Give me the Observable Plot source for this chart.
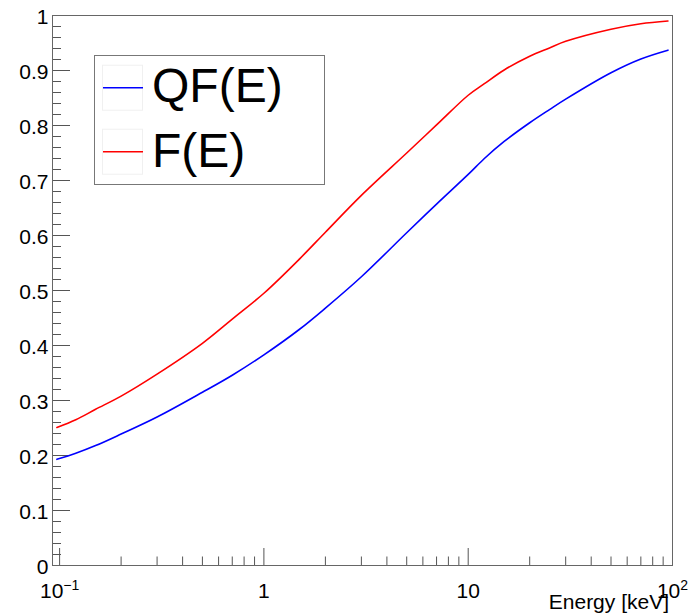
<!DOCTYPE html>
<html><head><meta charset="utf-8">
<script src="https://cdn.jsdelivr.net/npm/d3@7"></script>
<script src="https://cdn.jsdelivr.net/npm/@observablehq/plot@0.6"></script>
<style>
body{margin:0;background:#fff;}
svg{display:block;font-family:"Liberation Sans",Arial,Helvetica,sans-serif;}
</style>
</head><body><div id="chart"></div>
<script>
// Data
const energy = [0.097,0.12,0.15,0.2,0.3,0.5,0.7,1,1.5,2,3,5,7,10,12,15,20,25,30,50,70,95];
const qf     = [0.193,0.204,0.218,0.239,0.270,0.315,0.346,0.383,0.430,0.468,0.525,0.605,0.657,0.711,0.740,0.771,0.805,0.829,0.848,0.896,0.921,0.937];
const fe     = [0.251,0.265,0.284,0.308,0.348,0.404,0.448,0.495,0.558,0.606,0.673,0.750,0.801,0.855,0.876,0.901,0.926,0.941,0.953,0.975,0.985,0.990];
const seriesNames = ["QF(E)","F(E)"];
const seriesColors = ["#0000ff","#ff0000"];
const yMajor = [0,0.1,0.2,0.3,0.4,0.5,0.6,0.7,0.8,0.9,1];
const yMinor = d3.range(0,51).filter(i => i % 5 !== 0).map(i => i/50);
const xMajor = [0.1,1,10,100];
const xMinor = [0.2,0.3,0.4,0.5,0.6,0.7,0.8,0.9,2,3,4,5,6,7,8,9,20,30,40,50,60,70,80,90];
const xLabels = ["10^−1","1","10","10^2"];
const xTitle = "Energy [keV]";

const W = 689, H = 615;
const mL = 52, mR = 17, mT = 15, mB = 50;
const pw = W - mL - mR, ph = H - mT - mB;

const rows = [];
energy.forEach((e,i) => {
  rows.push({E:e, v:qf[i], s:seriesNames[0]});
  rows.push({E:e, v:fe[i], s:seriesNames[1]});
});

const tickColor = "#555";
const chart = Plot.plot({
  width: W, height: H,
  marginLeft: mL, marginRight: mR, marginTop: mT, marginBottom: mB,
  style: {fontSize: "21px", fontFamily: "Liberation Sans, Arial, Helvetica, sans-serif", color: "#000", background: "#fff"},
  x: {type: "log", domain: [0.0923, 100], axis: null},
  y: {domain: [0, 1], axis: null},
  color: {domain: seriesNames, range: seriesColors},
  marks: [
    Plot.tickY(yMinor, {y: d => d, insetRight: pw - 9, stroke: tickColor}),
    Plot.tickY(yMajor, {y: d => d, insetRight: pw - 18, stroke: tickColor}),
    Plot.tickX(xMinor, {x: d => d, insetTop: ph - 8.5, stroke: tickColor}),
    Plot.tickX(xMajor, {x: d => d, insetTop: ph - 17, stroke: tickColor}),
    Plot.axisY(yMajor, {tickSize: 0, tickPadding: 4, dy: 2, fontSize: 21, label: null,
      tickFormat: d => String(+d.toFixed(1))}),
    Plot.axisX(xMajor, {tickSize: 0, tickPadding: 18, fontSize: 21, label: null,
      tickFormat: (d, i) => xLabels[xMajor.indexOf(d)]}),
    Plot.line(rows, {x: "E", y: "v", z: "s", stroke: "s", strokeWidth: 1.6, curve: "catmull-rom"}),
    Plot.frame({stroke: "#666"})
  ]
});

const svg = d3.select(chart);
// superscripts for decade labels
svg.selectAll("text").each(function(){
  const t = this.textContent;
  const m = t.match(/^10\^(.+)$/);
  if (m) {
    const s = d3.select(this);
    s.text("10");
    s.append("tspan").attr("dy", -8).attr("font-size", 14).text(m[1]);
  }
});
// axis title
svg.append("text").attr("x", 669).attr("y", 609).attr("text-anchor", "end")
  .attr("font-size", 21).attr("fill", "#000").text(xTitle);

// legend
const lg = svg.append("g");
lg.append("rect").attr("x", 94.5).attr("y", 55.5).attr("width", 230).attr("height", 129)
  .attr("fill", "#fff").attr("stroke", "#777");
seriesNames.forEach((name, i) => {
  const cy = 87.7 + i * 64;
  lg.append("rect").attr("x", 102.5).attr("y", cy - 22.5).attr("width", 40).attr("height", 45)
    .attr("fill", "none").attr("stroke", "#f0f0f0");
  lg.append("line").attr("x1", 103).attr("x2", 143).attr("y1", cy).attr("y2", cy)
    .attr("stroke", seriesColors[i]).attr("stroke-width", 1.6);
  lg.append("text").attr("x", 152).attr("y", 101.7 + i * 65).attr("font-size", 48)
    .attr("text-anchor", "start").attr("fill", "#000").text(name);
});

document.getElementById("chart").appendChild(chart);
</script>
</body></html>
